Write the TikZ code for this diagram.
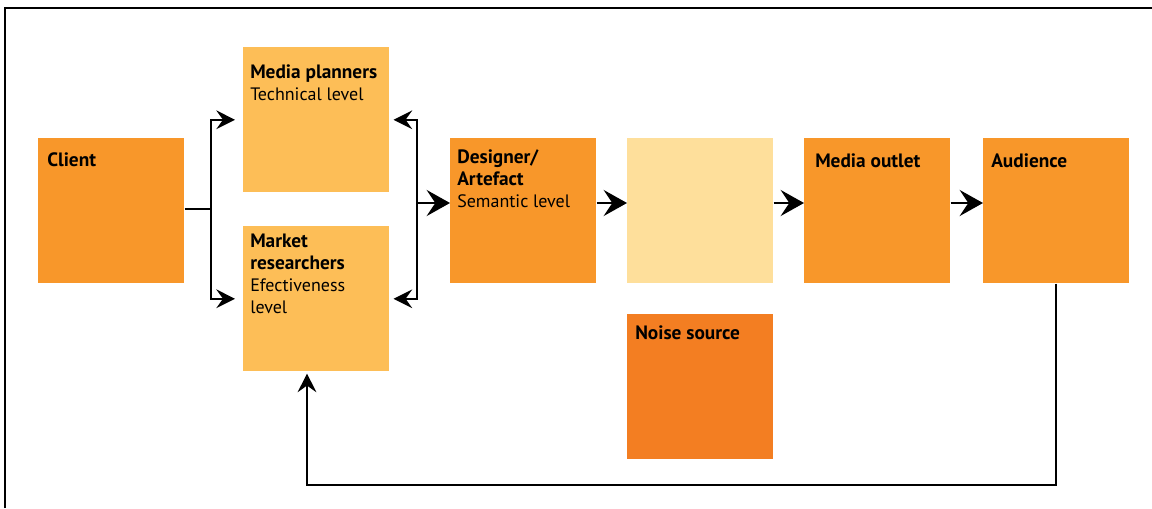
\documentclass[tikz,border=0pt]{standalone}
\usepackage{fontspec}
\setmainfont{PT Sans}
\usetikzlibrary{arrows.meta}

\definecolor{orangeA}{HTML}{F8972A}
\definecolor{orangeB}{HTML}{FDBE57}
\definecolor{orangeC}{HTML}{FEDF9B}
\definecolor{orangeD}{HTML}{F37E22}

% first-line baseline for stacked labels
\newcommand{\stack}[1]{\begin{tabular}[t]{@{}l@{}}#1\end{tabular}}
% bold heading words, a touch larger than the plain text
\newcommand{\hd}[1]{{\fontsize{14.5}{16.5}\selectfont\bfseries #1}}

\begin{document}
\begin{tikzpicture}[x=0.75pt,y=-0.75pt,
  box/.style={anchor=north west, inner sep=0pt, draw=none,
    minimum width=109.5pt, minimum height=108.75pt},
  lbl/.style={anchor=base west, inner sep=0pt,
    font=\fontsize{13.5}{16.5}\selectfont},
  conn/.style={line width=1.6pt, line join=miter},
  chain/.style={line width=2.2pt},
  small/.style={-{Stealth[length=14pt,width=14pt,inset=5pt]}},
  both/.style={{Stealth[length=14pt,width=14pt,inset=5pt]}-{Stealth[length=14pt,width=14pt,inset=5pt]}},
  big/.style={-{Stealth[length=17.5pt,width=19.5pt,inset=6.5pt]}}]

\useasboundingbox (0,0) rectangle (1152,508);

% frame
\draw[line width=1.5pt] (5,508) -- (5,8) -- (1152,8);

% boxes
\node[box, fill=orangeA] (client)      at (38,138)  {};
\node[box, fill=orangeB] (planners)    at (243,47)  {};
\node[box, fill=orangeB] (researchers) at (243,226) {};
\node[box, fill=orangeA] (designer)    at (450,138) {};
\node[box, fill=orangeC] (channel)     at (627,138) {};
\node[box, fill=orangeA] (outlet)      at (804,138) {};
\node[box, fill=orangeA] (audience)    at (983,138) {};
\node[box, fill=orangeD] (noise)       at (627,314) {};

% labels
\node[lbl] (client-t)      at (47,166)  {\hd{Client}};
\node[lbl] (planners-t)    at (250,78)  {\stack{\hd{Media planners}\\Technical level}};
\node[lbl] (researchers-t) at (250,247) {\stack{\hd{Market}\\\hd{researchers}\\Efectiveness\\level}};
\node[lbl] (designer-t)    at (457,163) {\stack{\hd{Designer/}\\\hd{Artefact}\\Semantic level}};
\node[lbl] (outlet-t)      at (815,167) {\hd{Media outlet}};
\node[lbl] (audience-t)    at (991,167) {\hd{Audience}};
\node[lbl] (noise-t)       at (635,339) {\hd{Noise source}};

% junction points
\coordinate (jl) at (211,209);
\coordinate (jr) at (417,203);
\coordinate (fb) at (307,485);

% client to planners and researchers
\draw[conn] (client.east |- jl) -- (jl);
\draw[conn,small] (jl) |- ([xshift=-6pt]planners.west);
\draw[conn,small] (jl) |- ([xshift=-6pt]researchers.west);

% planners and researchers to designer
\draw[conn,both] ([xshift=3pt]planners.east) -| (jr) |- ([xshift=3pt]researchers.east);
\draw[chain,big] (jr) -- (designer.west |- jr);

% main chain
\draw[chain,big] (designer.east |- jr) -- (channel.west |- jr);
\draw[chain,big] (channel.east |- jr) -- (outlet.west |- jr);
\draw[chain,big] (outlet.east |- jr) -- (audience.west |- jr);

% feedback from audience
\draw[conn,small] (audience.south) |- (fb) -- ([yshift=-1.5pt]researchers.south -| fb);

\end{tikzpicture}
\end{document}
